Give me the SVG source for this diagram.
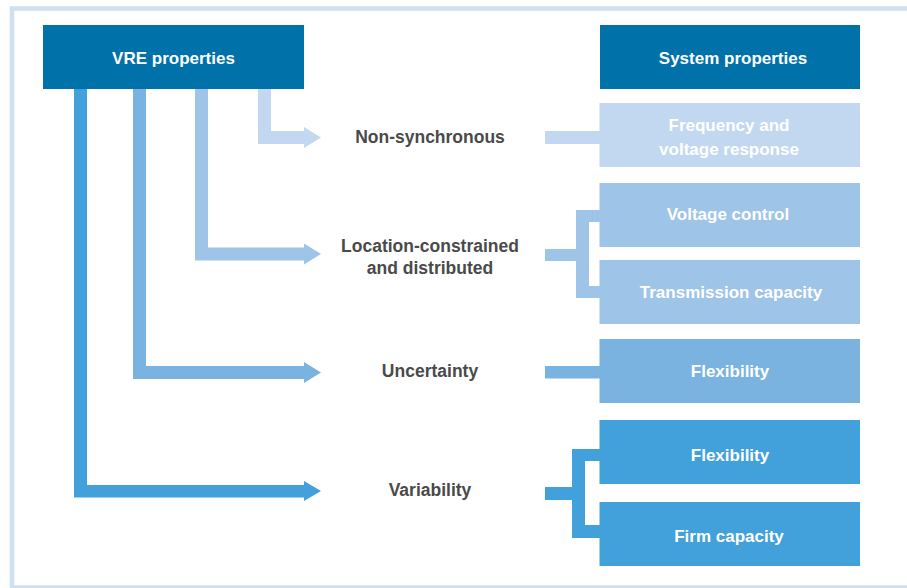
<svg xmlns="http://www.w3.org/2000/svg" width="907" height="588" viewBox="0 0 907 588">
<style>
.bt{font-family:"Liberation Sans",Arial,sans-serif;font-weight:bold;font-size:17px;fill:#ffffff;text-anchor:middle}
.lt{font-family:"Liberation Sans",Arial,sans-serif;font-weight:bold;font-size:17.5px;fill:#4a4a4a;text-anchor:middle}
.c1{fill:#c2d8f0}.c2{fill:#9ec4e8}.c3{fill:#7ab3e0}.c4{fill:#42a0da}.c0{fill:#0071a9}
</style>
<rect x="12" y="8.5" width="920" height="579" fill="none" stroke="#cfe0f0" stroke-width="4.5"/>
<g id="connectors">
<path class="c1" d="M258,89 H271 V131 H304 V127 L321,137.5 L304,148 V144 H258 Z"/>
<path class="c2" d="M195,89 H208 V247.5 H304 V243.5 L321,254 L304,264.5 V260.5 H195 Z"/>
<path class="c3" d="M133,89 H146 V366 H304 V362 L321,372.5 L304,383 V379 H133 Z"/>
<path class="c4" d="M74,89 H87 V485 H304 V481 L321,491 L304,501 V497.5 H74 Z"/>
<rect class="c1" x="545" y="131" width="55" height="13"/>
<path class="c2" d="M545,249 H576 V210 H600 V222 H589 V286 H600 V298 H576 V261 H545 Z"/>
<rect class="c3" x="545" y="366" width="55" height="12.5"/>
<path class="c4" d="M545,487 H572 V449 H600 V461 H585 V525 H600 V538 H572 V500 H545 Z"/>
</g>
<g id="vre"><rect class="c0" x="43" y="25" width="261" height="64"/><text class="bt" x="173.5" y="64">VRE properties</text></g>
<g id="sys"><rect class="c0" x="600" y="25" width="260" height="64"/><text class="bt" x="733" y="64">System properties</text></g>
<g id="nonsync"><text class="lt" x="430" y="143">Non-synchronous</text></g>
<g id="location"><text class="lt" x="430" y="252">Location-constrained</text><text class="lt" x="430" y="274">and distributed</text></g>
<g id="uncertainty"><text class="lt" x="430" y="377">Uncertainty</text></g>
<g id="variability"><text class="lt" x="430" y="496">Variability</text></g>
<g id="freq"><rect class="c1" x="599.5" y="103" width="260.5" height="64"/><text class="bt" x="729" y="131">Frequency and</text><text class="bt" x="729" y="155">voltage response</text></g>
<g id="vcontrol"><rect class="c2" x="599.5" y="183" width="260.5" height="64"/><text class="bt" x="728" y="220">Voltage control</text></g>
<g id="transmission"><rect class="c2" x="599.5" y="260" width="260.5" height="64"/><text class="bt" x="731" y="298">Transmission capacity</text></g>
<g id="flex1"><rect class="c3" x="599.5" y="339" width="260.5" height="64"/><text class="bt" x="730" y="377">Flexibility</text></g>
<g id="flex2"><rect class="c4" x="599.5" y="420" width="260.5" height="64"/><text class="bt" x="730" y="461">Flexibility</text></g>
<g id="firm"><rect class="c4" x="599.5" y="502" width="260.5" height="64"/><text class="bt" x="729" y="542">Firm capacity</text></g>
</svg>
